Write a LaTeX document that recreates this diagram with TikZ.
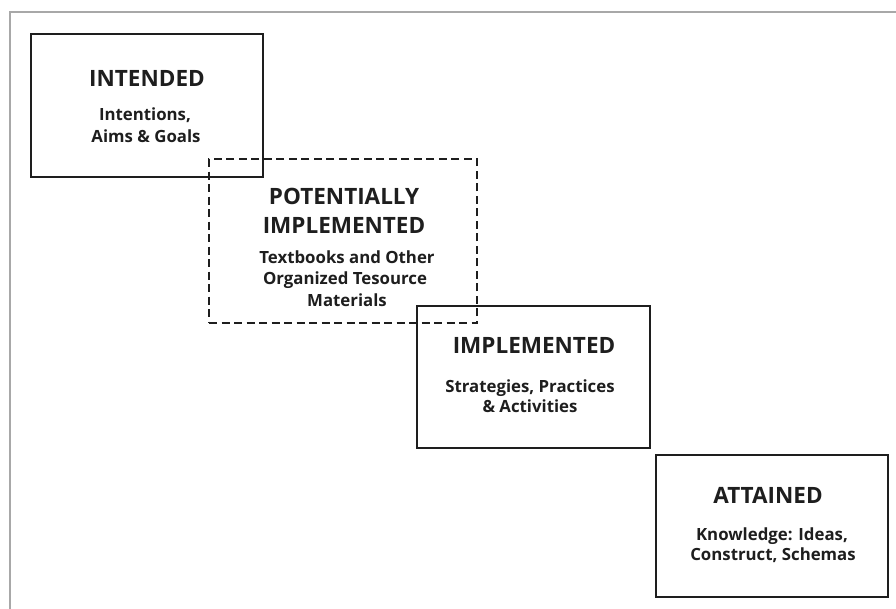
\documentclass[tikz,border=0pt]{standalone}
\usepackage{fontspec}
\setmainfont{Open Sans}
\definecolor{ink}{HTML}{1E1E1E}
\definecolor{framegrey}{HTML}{A8A8A8}
\begin{document}
\begin{tikzpicture}[x=1pt,y=-1pt,
  frame/.style={draw=framegrey, line width=2pt},
  box/.style={draw=ink, line width=1.8pt, inner sep=0pt, outer sep=0pt},
  dbox/.style={box, line width=1.8pt, dash pattern=on 8pt off 4.5pt},
  title/.style={font=\bfseries\fontsize{22.5}{27}\selectfont, text=ink, anchor=base, inner sep=0pt},
  body/.style={font=\bfseries\fontsize{16.8}{20}\selectfont, text=ink, anchor=base, inner sep=0pt}]
\useasboundingbox (0,0) rectangle (896,608);
\clip (0,0) rectangle (896,608);
\fill[white] (0,0) rectangle (896,608);
\draw[frame] (10,12) rectangle (912,624);
% boxes
\node[box, minimum width=232pt, minimum height=143pt] (intended) at (147,105.5) {};
\node[dbox, minimum width=268pt, minimum height=164pt] (potential) at (343,241) {};
\node[box, minimum width=233pt, minimum height=142pt] (implemented) at (533.5,377) {};
\node[box, minimum width=232pt, minimum height=142pt] (attained) at (772,526) {};
% texts
\node[title] (t1) at (147,86) {INTENDED};
\node[body] (b1a) at (145,120) {Intentions,};
\node[body] (b1b) at (146,142) {Aims \& Goals};
\node[title] (t2a) at (344,204) {POTENTIALLY};
\node[title] (t2b) at (344,233) {IMPLEMENTED};
\node[body] (b2a) at (347,263) {Textbooks and Other};
\node[body] (b2b) at (345,284) {Organized Tesource};
\node[body] (b2c) at (347,306) {Materials};
\node[title] (t3) at (534,353) {IMPLEMENTED};
\node[body] (b3a) at (530,392) {Strategies, Practices};
\node[body] (b3b) at (530,412) {\& Activities};
\node[title] (t4) at (768,503) {ATTAINED};
\node[body] (b4a) at (772,540) {Knowledge: Ideas,};
\node[body] (b4b) at (773,560) {Construct, Schemas};
\end{tikzpicture}
\end{document}
